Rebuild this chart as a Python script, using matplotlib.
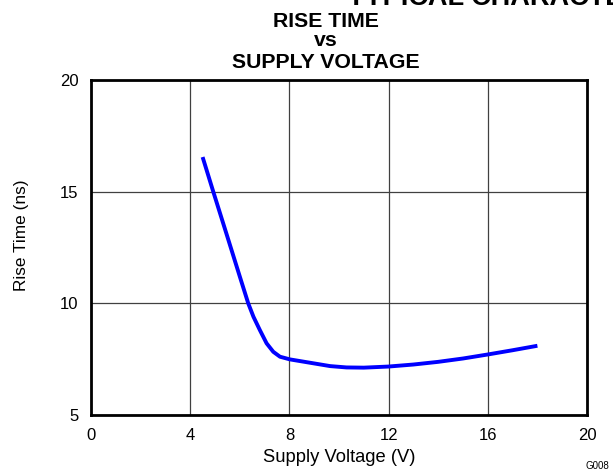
import matplotlib
matplotlib.use("Agg")
import matplotlib.pyplot as plt

plt.rcParams['font.family'] = ['Liberation Sans', 'DejaVu Sans']

# Data
supply_voltage = [4.5, 4.93, 5.5, 6.0, 6.34, 6.55, 6.81, 7.08, 7.35, 7.62, 8.02,
                  8.83, 9.64, 10.3, 11.0, 12.0, 13.0, 14.0, 15.0, 16.0, 17.0, 18.0]
rise_time = [16.55, 15.0, 12.98, 11.2, 10.0, 9.40, 8.80, 8.21, 7.83, 7.61, 7.49,
             7.34, 7.19, 7.13, 7.12, 7.17, 7.26, 7.38, 7.53, 7.71, 7.9, 8.1]
x_ticks = [0, 4, 8, 12, 16, 20]
y_ticks = [5, 10, 15, 20]

W, H = 613, 471
fig = plt.figure(figsize=(W / 100, H / 100), dpi=100)
ax = fig.add_axes([91 / W, 1 - 415 / H, (587 - 91) / W, (415 - 80) / H])

ax.plot(supply_voltage, rise_time, color='#0000ff', lw=2.8,
        solid_capstyle='butt', solid_joinstyle='round', zorder=3)

ax.set_xlim(0, 20)
ax.set_ylim(5, 20)
ax.set_xticks(x_ticks)
ax.set_yticks(y_ticks)
ax.grid(True, color='#404040', lw=0.9)
ax.tick_params(length=0, labelsize=12, colors='black')
ax.tick_params(axis='x', pad=9)
ax.tick_params(axis='y', pad=9)
for s in ax.spines.values():
    s.set_linewidth(2.0)
    s.set_color('black')

ax.set_xlabel('Supply Voltage (V)', fontsize=13.2, labelpad=5)
ax.set_ylabel('Rise Time (ns)', fontsize=12.4)
ax.yaxis.set_label_coords(-0.125, 0.537)

fig.text(348 / W, 1 - 5 / H, 'TYPICAL CHARACTERISTICS', fontsize=19.5,
         fontweight='bold', ha='left', va='baseline')
fig.text(325.5 / W, 1 - 27 / H, 'RISE TIME', fontsize=15.3, fontweight='bold',
         ha='center', va='baseline')
fig.text(325.5 / W, 1 - 46 / H, 'vs', fontsize=15.3, fontweight='bold',
         ha='center', va='baseline')
fig.text(325.5 / W, 1 - 68 / H, 'SUPPLY VOLTAGE', fontsize=15.3, fontweight='bold',
         ha='center', va='baseline')
fig.text(609 / W, 1 - 469 / H, 'G008', fontsize=7, ha='right', va='baseline')

fig.savefig('out.png', dpi=100)
